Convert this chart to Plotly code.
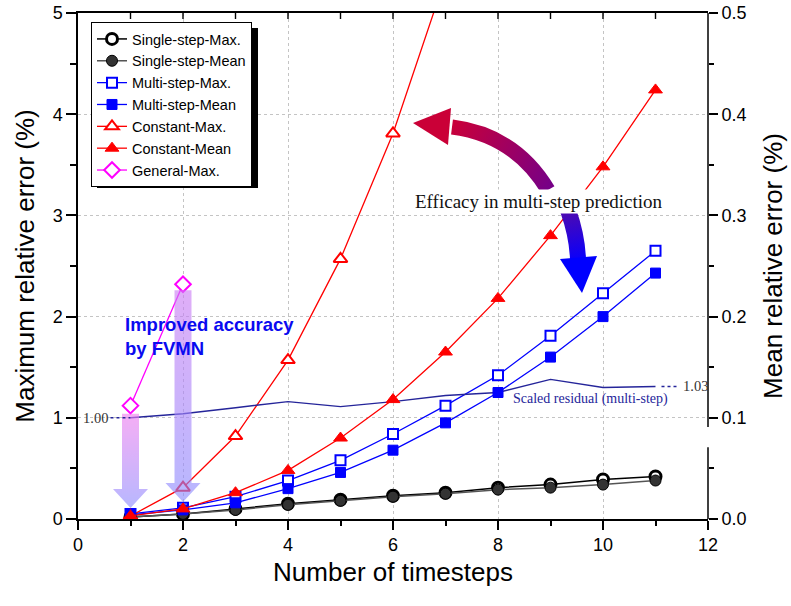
import base64
import plotly.graph_objects as go

# ---------------- data ----------------
steps = list(range(1, 12))
single_max = [0.02, 0.05, 0.10, 0.15, 0.19, 0.23, 0.26, 0.31, 0.34, 0.39, 0.42]          # left axis (%)
single_mean = [0.002, 0.005, 0.009, 0.014, 0.018, 0.022, 0.025, 0.029, 0.031, 0.034, 0.038]  # right axis (%)
multi_max = [0.05, 0.11, 0.22, 0.38, 0.58, 0.84, 1.12, 1.42, 1.81, 2.23, 2.65]
multi_mean = [0.004, 0.009, 0.016, 0.030, 0.046, 0.068, 0.095, 0.125, 0.160, 0.200, 0.243]
const_steps = list(range(1, 8))
const_max = [0.03, 0.31, 0.82, 1.57, 2.57, 3.81, 5.35]
const_mean = [0.003, 0.010, 0.026, 0.048, 0.080, 0.118, 0.165, 0.218, 0.280, 0.348, 0.424]
general_steps = [1, 2]
general_max = [1.12, 2.32]
resid = [1.00, 1.04, 1.10, 1.16, 1.11, 1.16, 1.22, 1.25, 1.38, 1.30, 1.31]
resid_labels = ["1.00", "1.03"]

X_RANGE = [0, 12]
Y_RANGE = [0, 5]
Y2_RANGE = [0, 0.5]

# ---------------- geometry ----------------
W, H = 791, 606
ML, MR, MT, MB = 78, 83, 13, 87
PW = W - ML - MR
PH = H - MT - MB


def px(v):
    return (v - X_RANGE[0]) / (X_RANGE[1] - X_RANGE[0]) * PW


def py(v):
    return PH - (v - Y_RANGE[0]) / (Y_RANGE[1] - Y_RANGE[0]) * PH


def dx(pixels):
    return pixels / PW * (X_RANGE[1] - X_RANGE[0])


SANS = "Arial, 'Liberation Sans', sans-serif"
SERIF = "'Times New Roman', 'Liberation Serif', serif"
NAVY = "#25259a"

# ---------------- decorative SVG overlay (arrows, top ticks) ----------------
def vert_arrow(cx, top, base, tip, hw, hh, grad):
    d = (f"M{cx-hw:.1f},{top:.1f} L{cx+hw:.1f},{top:.1f} L{cx+hw:.1f},{base:.1f} "
         f"L{cx+hh:.1f},{base:.1f} L{cx:.1f},{tip:.1f} L{cx-hh:.1f},{base:.1f} "
         f"L{cx-hw:.1f},{base:.1f} Z")
    return f'<path d="{d}" fill="url(#{grad})"/>'


a1x = px(general_steps[0])
a2x = px(general_steps[1])
a1 = vert_arrow(a1x, py(general_max[0]) + 8, PH - 30, PH - 11, 8.5, 17.5, "ga")
a2 = vert_arrow(a2x, py(general_max[1]) + 6, PH - 36, PH - 17, 8.5, 17.5, "gb")

# curved arrows (plot-area pixel coords)
u0, u1, u2 = (470, 177), (437, 122), (374, 114)
l0, l1, l2 = (490, 197), (499, 222), (500, 246)

top_ticks = "".join(
    f'<line x1="{px(v):.1f}" y1="0" x2="{px(v):.1f}" y2="6" stroke="black" stroke-width="1.4"/>'
    for v in range(1, 12)
)

svg = f'''<svg xmlns="http://www.w3.org/2000/svg" width="{PW}" height="{PH}" viewBox="0 0 {PW} {PH}" preserveAspectRatio="none">
<defs>
<linearGradient id="ga" x1="0" y1="0" x2="0" y2="1">
<stop offset="0" stop-color="rgb(240,125,240)"/><stop offset="1" stop-color="rgb(140,140,255)"/></linearGradient>
<linearGradient id="gb" x1="0" y1="0" x2="0" y2="1">
<stop offset="0" stop-color="rgb(205,125,244)"/><stop offset="1" stop-color="rgb(140,140,255)"/></linearGradient>
<linearGradient id="gu" gradientUnits="userSpaceOnUse" x1="{u0[0]}" y1="{u0[1]}" x2="{u2[0]}" y2="{u2[1]}">
<stop offset="0" stop-color="rgb(118,0,135)"/><stop offset="1" stop-color="rgb(200,0,58)"/></linearGradient>
<linearGradient id="gl" gradientUnits="userSpaceOnUse" x1="{l0[0]}" y1="{l0[1]}" x2="{l2[0]}" y2="{l2[1]}">
<stop offset="0" stop-color="rgb(80,10,175)"/><stop offset="1" stop-color="rgb(10,0,250)"/></linearGradient>
</defs>
<g opacity="0.62">{a1}{a2}</g>
<path d="M{u0[0]},{u0[1]} Q{u1[0]},{u1[1]} {u2[0]},{u2[1]}" stroke="url(#gu)" stroke-width="15" fill="none"/>
<polygon points="335,110 373,95 370,132" fill="rgb(202,0,55)"/>
<path d="M{l0[0]},{l0[1]} Q{l1[0]},{l1[1]} {l2[0]},{l2[1]}" stroke="url(#gl)" stroke-width="16" fill="none"/>
<polygon points="482,246 519,243 504,280" fill="rgb(0,0,255)"/>
{top_ticks}
</svg>'''
svg_uri = "data:image/svg+xml;base64," + base64.b64encode(svg.encode()).decode()

# ---------------- figure ----------------
fig = go.Figure()

fig.add_trace(go.Scatter(
    x=steps, y=single_max, name="Single-step-Max.", mode="lines+markers",
    line=dict(color="black", width=1.5),
    marker=dict(symbol="circle", size=11, color="white", line=dict(color="black", width=3))))
fig.add_trace(go.Scatter(
    x=steps, y=single_mean, name="Single-step-Mean", mode="lines+markers", yaxis="y2",
    line=dict(color="#555555", width=1.5),
    marker=dict(symbol="circle", size=11, color="#333333", line=dict(color="black", width=1))))
fig.add_trace(go.Scatter(
    x=steps, y=multi_max, name="Multi-step-Max.", mode="lines+markers",
    line=dict(color="#0000ff", width=1.3),
    marker=dict(symbol="square", size=10, color="white", line=dict(color="#0000ff", width=2))))
fig.add_trace(go.Scatter(
    x=steps, y=multi_mean, name="Multi-step-Mean", mode="lines+markers", yaxis="y2",
    line=dict(color="#0000ff", width=1.3),
    marker=dict(symbol="square", size=10, color="#0000ff", line=dict(color="#0000ff", width=1))))
fig.add_trace(go.Scatter(
    x=const_steps, y=const_max, name="Constant-Max.", mode="lines+markers",
    line=dict(color="#ff0000", width=1.3),
    marker=dict(symbol="triangle-up", size=12, color="white", line=dict(color="#ff0000", width=2))))
fig.add_trace(go.Scatter(
    x=steps, y=const_mean, name="Constant-Mean", mode="lines+markers", yaxis="y2",
    line=dict(color="#ff0000", width=1.3),
    marker=dict(symbol="triangle-up", size=12, color="#ff0000", line=dict(color="#ff0000", width=1))))
fig.add_trace(go.Scatter(
    x=general_steps, y=general_max, name="General-Max.", mode="lines+markers",
    line=dict(color="#ff00ff", width=1.3),
    marker=dict(symbol="diamond", size=12, color="white", line=dict(color="#ff00ff", width=2))))
fig.add_trace(go.Scatter(
    x=steps, y=resid, name="Scaled residual (multi-step)", mode="lines",
    line=dict(color=NAVY, width=1.4), showlegend=False))

axis_common = dict(showline=True, linecolor="black", linewidth=1.5, ticks="outside",
                   tickcolor="black", tickwidth=1.5, zeroline=False,
                   tickfont=dict(family=SANS, size=18, color="black"))

GRID = "#c4c4c4"
TITLE_SIZE = 26
fig.update_layout(
    width=W, height=H, autosize=False,
    margin=dict(l=ML, r=MR, t=MT, b=MB, pad=0),
    plot_bgcolor="white", paper_bgcolor="white",
    font=dict(family=SANS, color="black"),
    xaxis=dict(range=X_RANGE, dtick=2, tick0=0, ticklen=9, mirror=True,
               showgrid=True, gridcolor=GRID, griddash="dot", gridwidth=1,
               minor=dict(dtick=1, ticks="outside", ticklen=5, tickwidth=1.5, tickcolor="black", showgrid=False),
               title=dict(text="Number of timesteps", font=dict(family=SANS, size=TITLE_SIZE), standoff=8),
               automargin=False, **axis_common),
    yaxis=dict(range=Y_RANGE, dtick=1, tick0=0, ticklen=10,
               showgrid=True, gridcolor=GRID, griddash="dot", gridwidth=1,
               minor=dict(dtick=0.5, ticks="outside", ticklen=6, tickwidth=1.5, tickcolor="black", showgrid=False),
               title=dict(text="Maximum relative error (%)", font=dict(family=SANS, size=TITLE_SIZE), standoff=11),
               automargin=False, **axis_common),
    yaxis2=dict(range=Y2_RANGE, overlaying="y", side="right", dtick=0.1, tick0=0, tickformat=".1f",
                ticks="outside", ticklen=9, tickwidth=1.5, tickcolor="black",
                showline=False, showgrid=False, zeroline=False,
                tickfont=dict(family=SANS, size=18, color="black"),
                minor=dict(dtick=0.05, ticks="outside", ticklen=5, tickwidth=1.5, tickcolor="black", showgrid=False),
                title=dict(text="Mean relative error (%)", font=dict(family=SANS, size=TITLE_SIZE), standoff=18),
                automargin=False),
    legend=dict(x=(91 - ML) / PW, y=1 - (22 - MT) / PH, xanchor="left", yanchor="top",
                bgcolor="white", bordercolor="black", borderwidth=1,
                font=dict(family=SANS, size=14.5, color="black"), tracegroupgap=0),
    showlegend=True,
)

# broken right axis line
gap_lo, gap_hi = 0.071, 0.091
fig.add_shape(type="line", xref="paper", yref="y2", x0=1, x1=1, y0=Y2_RANGE[0], y1=gap_lo,
              line=dict(color="black", width=1.5), layer="above")
fig.add_shape(type="line", xref="paper", yref="y2", x0=1, x1=1, y0=gap_hi, y1=Y2_RANGE[1],
              line=dict(color="black", width=1.5), layer="above")

# legend drop shadow
fig.add_shape(type="rect", xref="paper", yref="paper",
              x0=(97 - ML) / PW, x1=(258 - ML) / PW, y0=1 - (188 - MT) / PH, y1=1 - (28 - MT) / PH,
              fillcolor="black", line=dict(width=0), layer="above")

# dotted leaders for the residual labels
fig.add_shape(type="line", xref="x", yref="y", x0=steps[0] - dx(20), x1=steps[0], y0=resid[0], y1=resid[0],
              line=dict(color=NAVY, width=1.4, dash="dot"))
fig.add_shape(type="line", xref="x", yref="y", x0=steps[-1] + dx(6), x1=steps[-1] + dx(23),
              y0=resid[-1], y1=resid[-1], line=dict(color=NAVY, width=1.4, dash="dot"))

# decorative overlay
fig.add_layout_image(source=svg_uri, xref="paper", yref="paper", x=0, y=1, sizex=1, sizey=1,
                     xanchor="left", yanchor="top", sizing="stretch", layer="above")

fig.add_annotation(x=steps[0] - dx(21), y=resid[0], text=resid_labels[0], showarrow=False,
                   xanchor="right", font=dict(family=SERIF, size=14.5, color="#333333"))
fig.add_annotation(x=steps[-1] + dx(25), y=resid[-1], text=resid_labels[1], showarrow=False,
                   xanchor="left", font=dict(family=SERIF, size=14.5, color="#333333"))
fig.add_annotation(x=9.77, y=1.19, text="Scaled residual (multi-step)", showarrow=False,
                   font=dict(family=SERIF, size=14, color=NAVY))
fig.add_annotation(x=8.78, y=3.14, text="Efficacy in multi-step prediction", showarrow=False,
                   bgcolor="white", borderpad=1, font=dict(family=SERIF, size=19, color="#111111"))
fig.add_annotation(x=0.86, y=2.05, text="<b>Improved accuracy<br>by FVMN</b>", showarrow=False,
                   xanchor="left", yanchor="top", align="left",
                   font=dict(family=SANS, size=18.5, color="#0a0af0"))

fig.write_html("out.html")
